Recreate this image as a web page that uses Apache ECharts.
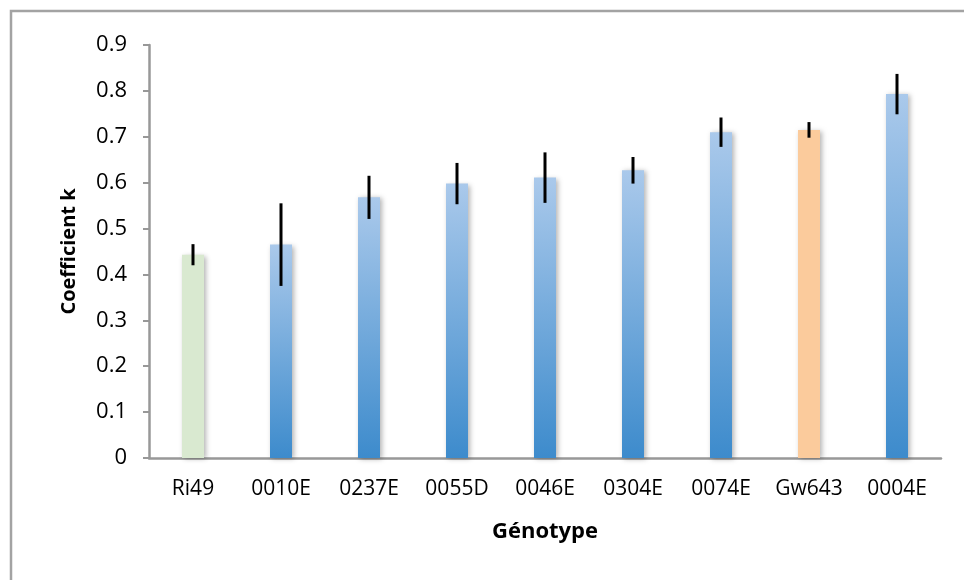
<!DOCTYPE html>
<html>
<head>
<meta charset="utf-8">
<script src="https://cdn.jsdelivr.net/npm/echarts@6/dist/echarts.min.js"></script>
<style>
html,body{margin:0;padding:0;background:#fff;}
#c{width:964px;height:580px;}
</style>
</head>
<body>
<div id="c"></div>
<script>
const categories = ['Ri49','0010E','0237E','0055D','0046E','0304E','0074E','Gw643','0004E'];
const values = [0.443,0.465,0.568,0.598,0.611,0.627,0.710,0.715,0.793];
const errors = [0.023,0.090,0.047,0.045,0.055,0.029,0.032,0.017,0.044];
const barKinds = ['green','blue','blue','blue','blue','blue','blue','orange','blue'];
const yTicks = {min:0, max:0.9, interval:0.1};

const blueGrad = new echarts.graphic.LinearGradient(0,0,0,1,[
  {offset:0,color:'#aac9eb'},{offset:1,color:'#3d8bcc'}]);
const fills = {
  blue: blueGrad,
  green: '#d9e9d0',
  orange: '#fbcb9c'
};

const chart = echarts.init(document.getElementById('c'), null, {renderer:'canvas'});
const font = '"Open Sans", "Liberation Sans", sans-serif';

chart.setOption({
  backgroundColor:'#fff',
  animation:false,
  graphic:[{
    type:'rect', shape:{x:11,y:11,width:980,height:600},
    style:{fill:'none',stroke:'#a3a3a3',lineWidth:2.5}, z:-10
  }],
  grid:{left:149,right:23,top:45,bottom:122},
  xAxis:{
    type:'category', data:categories,
    name:'Génotype', nameLocation:'middle', nameGap:63,
    nameTextStyle:{fontFamily:font,fontSize:22,fontWeight:'bold',color:'#000'},
    axisLine:{lineStyle:{color:'#989898',width:2.5}},
    axisTick:{show:false},
    axisLabel:{fontFamily:font,fontSize:21,color:'#000',margin:21,interval:0,hideOverlap:false}
  },
  yAxis:{
    type:'value', min:yTicks.min, max:yTicks.max, interval:yTicks.interval,
    name:'Coefficient k', nameLocation:'middle', nameGap:70, nameRotate:90,
    nameTextStyle:{fontFamily:font,fontSize:20,fontWeight:'bold',color:'#000'},
    axisLine:{show:true,lineStyle:{color:'#989898',width:2.5}},
    axisTick:{show:true,length:6,lineStyle:{color:'#989898',width:2}},
    splitLine:{show:false},
    axisLabel:{fontFamily:font,fontSize:22,color:'#000',margin:22,
      formatter:v=>String(Math.round(v*10)/10)}
  },
  series:[{
    type:'bar',
    barWidth:'25%',
    data:values.map((v,i)=>({value:v,itemStyle:{color:fills[barKinds[i]]}})),
    itemStyle:{shadowBlur:5,shadowOffsetX:2,shadowOffsetY:1,shadowColor:'rgba(0,0,0,0.3)'}
  },{
    type:'custom',
    data:values.map((v,i)=>[i,v-errors[i],v+errors[i]]),
    renderItem:function(params,api){
      const lo = api.coord([api.value(0),api.value(1)]);
      const hi = api.coord([api.value(0),api.value(2)]);
      return {type:'line',shape:{x1:lo[0],y1:lo[1],x2:hi[0],y2:hi[1]},
        style:{stroke:'#000',lineWidth:3}};
    },
    z:10
  }]
});
</script>
</body>
</html>
